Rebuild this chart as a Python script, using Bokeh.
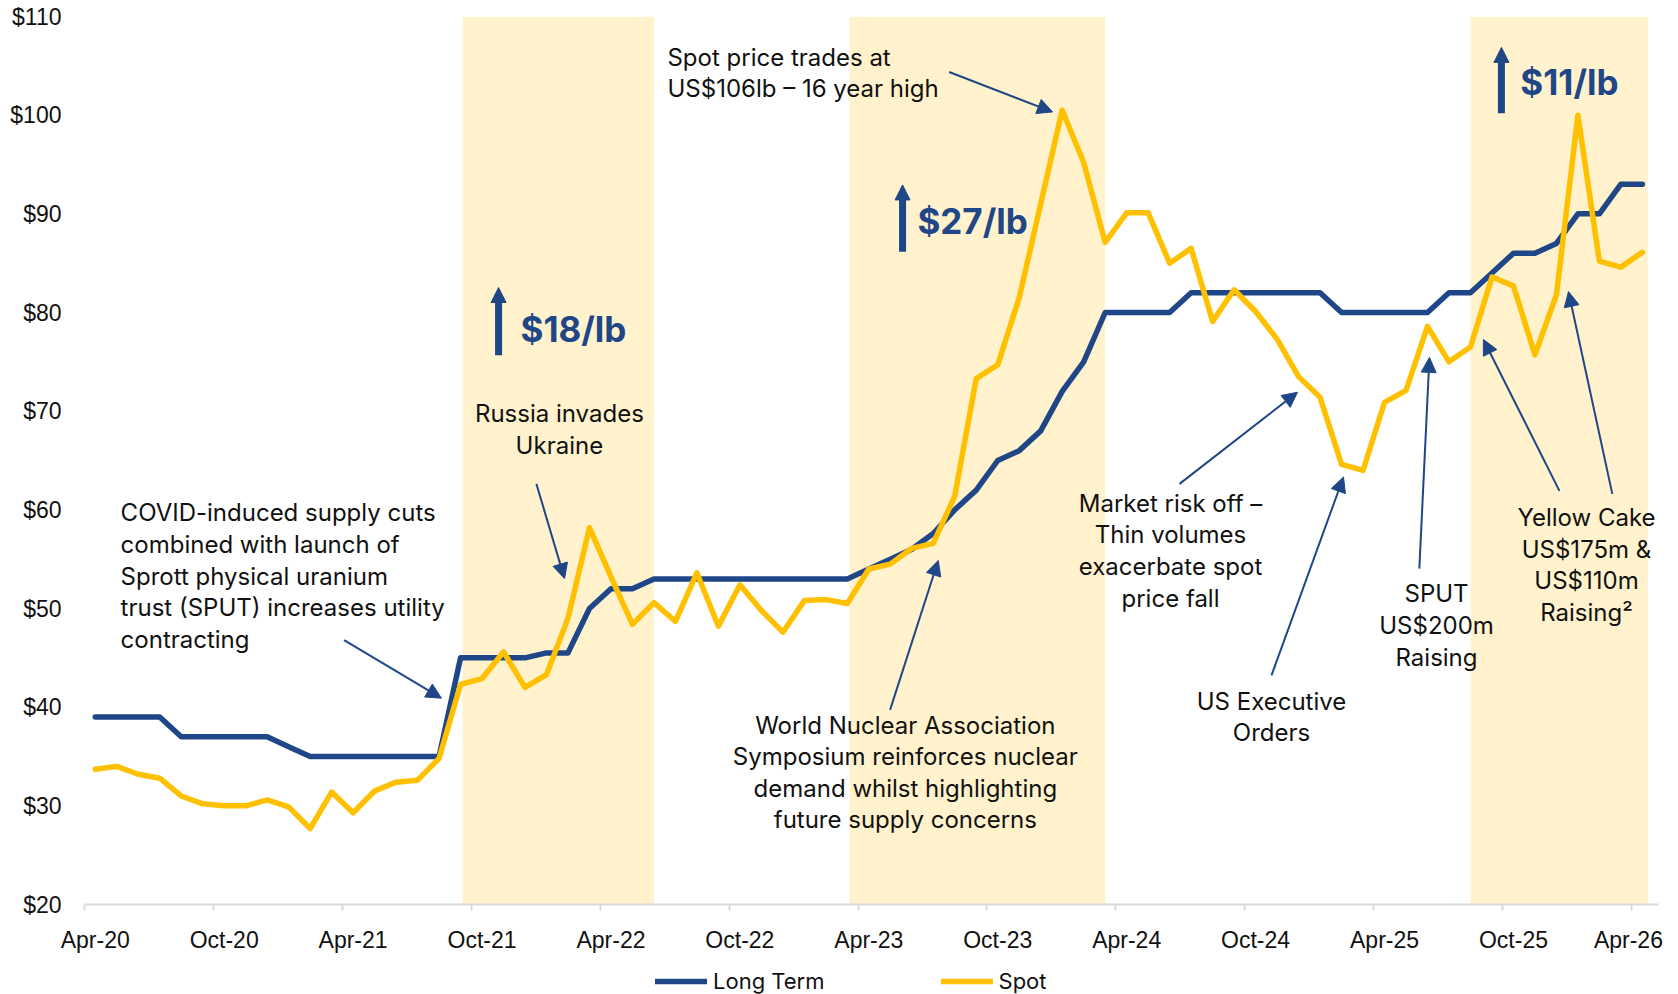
from bokeh.plotting import figure
from bokeh.layouts import column
from bokeh.models import (Range1d, FixedTicker, BoxAnnotation, Label,
                          Arrow, NormalHead, Legend, LegendItem, PrintfTickFormatter)
from bokeh.embed import file_html
from bokeh.resources import INLINE

# ---------------- data (monthly, Apr-20 .. Apr-26) ----------------
long_term = [39, 39, 39, 39, 37, 37, 37, 37, 37, 36, 35, 35, 35, 35, 35, 35, 35,
             45, 45, 45, 45, 45.5, 45.5, 50, 52, 52,
             53, 53, 53, 53, 53, 53, 53, 53, 53, 53,
             54, 55, 56, 57.6, 60, 62, 65, 66, 68, 72, 75,
             80, 80, 80, 80,
             82, 82, 82, 82, 82, 82, 82,
             80, 80, 80, 80, 80,
             82, 82, 84, 86, 86, 87, 90, 90, 93, 93]
spot = [33.7, 34.0, 33.2, 32.8, 31.0, 30.2, 30.0, 30.0, 30.6, 29.9, 27.7, 31.4, 29.3, 31.5, 32.4, 32.6, 34.8,
        42.3, 42.9, 45.6, 42.0, 43.3, 49.0, 58.2, 53.2, 48.4,
        50.6, 48.7, 53.6, 48.2, 52.4, 49.8, 47.6, 50.8, 50.9, 50.5,
        54.0, 54.5, 56.1, 56.6, 61.4, 73.3, 74.7, 81.5, 91.0, 100.5, 95.2,
        87.1, 90.1, 90.1, 85.0,
        86.5, 79.1, 82.3, 80.1, 77.3, 73.5, 71.4,
        64.6, 64.0, 70.9, 72.1, 78.6,
        75.0, 76.5, 83.6, 82.7, 75.7, 81.8, 100.0, 85.2, 84.6, 86.1]
month_index = list(range(len(long_term)))

tick_labels = ["Apr-20", "Oct-20", "Apr-21", "Oct-21", "Apr-22", "Oct-22", "Apr-23",
               "Oct-23", "Apr-24", "Oct-24", "Apr-25", "Oct-25", "Apr-26"]
tick_label_pos = [0, 6, 12, 18, 24, 30, 36, 42, 48, 54, 60, 66, 71.35]
tick_mark_pos = [-0.5 + 6 * k for k in range(13)]
y_ticks = [20, 30, 40, 50, 60, 70, 80, 90, 100, 110]

band_starts = [17.1, 35.1, 64.0]
band_ends = [26.0, 47.0, 72.25]

NAVY = "#1F4788"
GOLD = "#FFC000"
BAND = "#FFF2CC"
AXIS_GREY = "#D9D9D9"
TXT_FONT = "Inter"
TICK_FONT = "Liberation Sans"

p = figure(width=1678, height=955, x_range=Range1d(-0.5, 72.75), y_range=Range1d(20, 110),
           output_backend="svg", toolbar_location=None,
           min_border_left=84, min_border_top=16, min_border_right=20, min_border_bottom=48)
p.outline_line_color = None
p.xgrid.visible = False
p.ygrid.visible = False
p.background_fill_color = "white"

# shaded periods
for s, e in zip(band_starts, band_ends):
    p.add_layout(BoxAnnotation(left=s, right=e, bottom=20, top=110, fill_color=BAND,
                               fill_alpha=1.0, line_color=None, level="underlay"))

r_lt = p.line(month_index, long_term, line_color=NAVY, line_width=5.5,
              line_join="round", line_cap="round")
r_sp = p.line(month_index, spot, line_color=GOLD, line_width=5.5,
              line_join="round", line_cap="round")

# y axis
ya = p.yaxis[0]
ya.ticker = FixedTicker(ticks=y_ticks)
ya.formatter = PrintfTickFormatter(format="$%d")
ya.axis_line_color = None
ya.major_tick_line_color = None
ya.minor_tick_line_color = None
ya.major_tick_out = 0
ya.major_label_standoff = 23
ya.major_label_text_font = TICK_FONT
ya.major_label_text_font_size = "23px"
ya.major_label_text_color = "#111111"

# x axis: labels on month centres, tick marks between months (minor ticks)
xa = p.xaxis[0]
xa.ticker = FixedTicker(ticks=tick_label_pos, minor_ticks=tick_mark_pos)
xa.major_label_overrides = {pos: lab for pos, lab in zip(tick_label_pos, tick_labels)}
xa.axis_line_color = AXIS_GREY
xa.axis_line_width = 2
xa.major_tick_line_color = None
xa.major_tick_in = 0
xa.major_tick_out = 6
xa.minor_tick_line_color = AXIS_GREY
xa.minor_tick_line_width = 2
xa.minor_tick_in = 0
xa.minor_tick_out = 6
xa.major_label_standoff = 16
xa.major_label_text_font = TICK_FONT
xa.major_label_text_font_size = "23px"
xa.major_label_text_color = "#111111"

# ---------------- annotations ----------------
def note(x, y, text, align="center", size="24px", color="#111111", bold=False):
    p.add_layout(Label(x=x, y=y, text=text, text_align=align, text_baseline="middle",
                       text_font=TXT_FONT, text_font_size=size, text_color=color,
                       text_font_style="bold" if bold else "normal", text_line_height=1.09))

def arrow(x0, y0, x1, y1, width=2, size=15):
    p.add_layout(Arrow(x_start=x0, y_start=y0, x_end=x1, y_end=y1, line_color=NAVY,
                       line_width=width,
                       end=NormalHead(size=size, fill_color=NAVY, line_color=NAVY, line_width=1)))

note(1.18, 53.28, "COVID-induced supply cuts\ncombined with launch of\nSprott physical uranium\ntrust (SPUT) increases utility\ncontracting", align="left")
note(21.6, 68.13, "Russia invades\nUkraine")
note(26.63, 104.29, "Spot price trades at\nUS$106lb \u2013 16 year high", align="left")
note(37.7, 33.38, "World Nuclear Association\nSymposium reinforces nuclear\ndemand whilst highlighting\nfuture supply concerns")
note(50.04, 55.86, "Market risk off \u2013\nThin volumes\nexacerbate spot\nprice fall")
note(54.74, 38.99, "US Executive\nOrders")
note(62.42, 48.28, "SPUT\nUS$200m\nRaising")
note(69.40, 54.39, "Yellow Cake\nUS$175m &\nUS$110m\nRaising\u00b2")

note(19.79, 78.28, "$18/lb", align="left", size="35px", color=NAVY, bold=True)
note(38.26, 89.29, "$27/lb", align="left", size="35px", color=NAVY, bold=True)
note(66.32, 103.33, "$11/lb", align="left", size="35px", color=NAVY, bold=True)

arrow(18.77, 75.66, 18.77, 82.53, width=7, size=15)
arrow(37.57, 86.16, 37.57, 92.93, width=7, size=15)
arrow(65.44, 100.2, 65.44, 106.87, width=7, size=15)

arrow(11.58, 46.8, 16.11, 40.91)
arrow(20.53, 62.63, 21.84, 53.03)
arrow(39.74, 104.37, 44.55, 100.33)
arrow(36.99, 39.73, 39.23, 54.87)
arrow(50.46, 62.63, 55.95, 71.92)
arrow(54.74, 43.23, 58.09, 63.33)
arrow(61.62, 54.04, 62.09, 75.45)
arrow(68.14, 61.92, 64.6, 77.27)
arrow(70.6, 61.62, 68.56, 82.12)

# ---------------- legend strip below the chart ----------------
leg = figure(width=1678, height=39, x_range=Range1d(-1, 0), y_range=Range1d(-1, 0),
             output_backend="svg", toolbar_location=None, x_axis_type=None, y_axis_type=None,
             min_border=0)
leg.outline_line_color = None
leg.xgrid.visible = False
leg.ygrid.visible = False
# key renderers carry the series (outside this strip's visible range; only the legend keys show)
k_lt = leg.line(month_index, long_term, line_color=NAVY, line_width=5.5, line_cap="round")
k_sp = leg.line(month_index, spot, line_color=GOLD, line_width=5.5, line_cap="round")
legend = Legend(items=[LegendItem(label="Long Term", renderers=[k_lt]),
                       LegendItem(label="Spot", renderers=[k_sp])],
                orientation="horizontal", location=(571, 0))
legend.border_line_color = None
legend.background_fill_alpha = 0
legend.glyph_width = 52
legend.glyph_height = 20
legend.label_standoff = 6
legend.spacing = 116
legend.padding = 2
legend.margin = 0
legend.label_text_font = TXT_FONT
legend.label_text_font_size = "22px"
legend.label_text_color = "#111111"
leg.add_layout(legend, "center")

page = column(p, leg, spacing=0)
open("out.html", "w").write(file_html(page, INLINE))
